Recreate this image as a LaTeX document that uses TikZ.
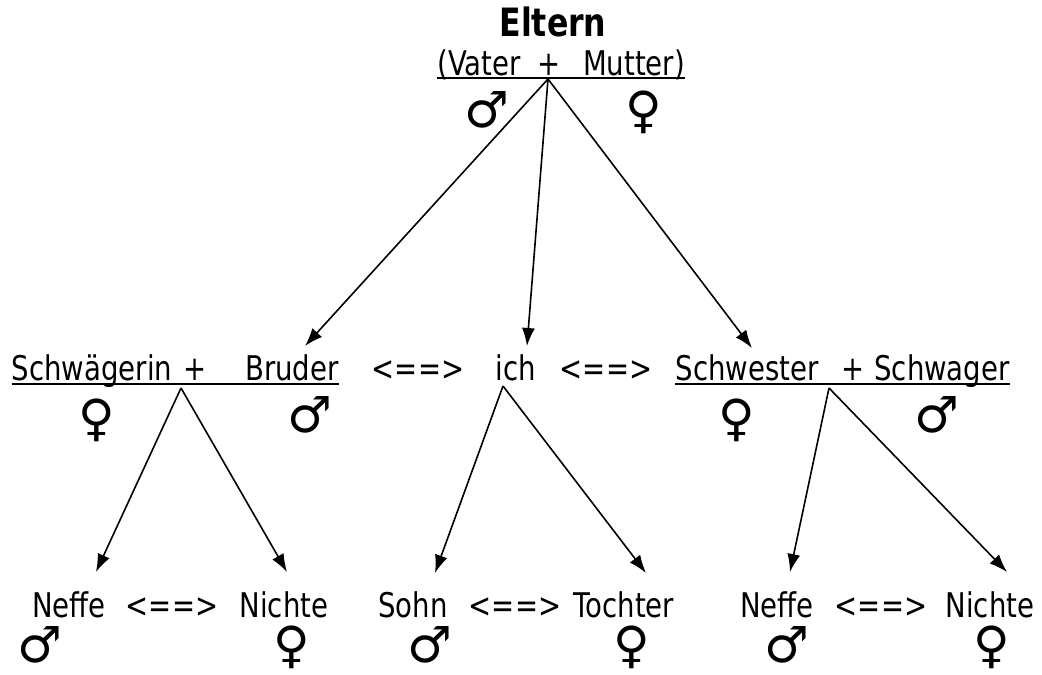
\documentclass[tikz,border=0pt]{standalone}
\usepackage{fontspec}
\setmainfont{DejaVu Sans Condensed}[FakeStretch=0.9]
\newfontfamily\symfont{DejaVu Sans}
\usetikzlibrary{arrows.meta}

\begin{document}
\begin{tikzpicture}[x=1pt, y=-1pt,
  wort/.style={anchor=base, inner sep=0pt, font=\fontsize{34}{37}\selectfont},
  zeichen/.style={inner sep=0pt, font=\symfont\fontsize{50}{54}\selectfont},
  pfeil/.style={-{Latex[length=18pt,width=13pt]}, line width=1.6pt},
  strich/.style={line width=1.8pt}]

\useasboundingbox (0,0) rectangle (1042,675);

% Eltern
\node[wort, font=\bfseries\fontsize{39}{42}\selectfont] (eltern) at (553,36) {Eltern};
\node[wort] (vater) at (479,75) {(Vater};
\node[wort] (plusE) at (549,75) {+};
\node[wort] (mutter) at (634,75) {Mutter)};
\draw[strich] ([yshift=-3pt]vater.base west) -- ([yshift=-3pt]mutter.base east);

% zweite Reihe
\node[wort] (schwaegerin) at (92,380) {Schwägerin};
\node[wort] (plusB) at (195,380) {+};
\node[wort] (bruder) at (292,380) {Bruder};
\node[wort] (pfeilA) at (418,380) {<==>};
\node[wort] (ich) at (516,380) {ich};
\node[wort] (pfeilB) at (606,380) {<==>};
\node[wort] (schwester) at (747,380) {Schwester};
\node[wort] (plusS) at (853,380) {+};
\node[wort] (schwager) at (942,380) {Schwager};
\draw[strich] ([yshift=-4pt]schwaegerin.base west) -- ([yshift=-4pt]bruder.base east);
\draw[strich] ([yshift=-4pt]schwester.base west) -- ([yshift=-4pt]schwager.base east);

% dritte Reihe
\node[wort] (neffeL) at (69,617) {Neffe};
\node[wort] (pfeilC) at (172,617) {<==>};
\node[wort] (nichteL) at (284,617) {Nichte};
\node[wort] (sohn) at (413,617) {Sohn};
\node[wort] (pfeilD) at (515,617) {<==>};
\node[wort] (tochter) at (624,617) {Tochter};
\node[wort] (neffeR) at (777,617) {Neffe};
\node[wort] (pfeilE) at (881,617) {<==>};
\node[wort] (nichteR) at (990,617) {Nichte};

% Symbole
\foreach \Pos/\Name in {(487,110)/mV, (40,645)/mNL, (310,415)/mB, (937,415)/mSr,
                        (430,645)/mS, (787,645)/mNR}{
    \node[zeichen] (\Name) at \Pos {♂};
}
\foreach \Pos/\Name in {(644,112)/wM, (97,420)/wSn, (737,420)/wSt, (292,647)/wNL,
                        (632,647)/wT, (992,647)/wNR}{
    \node[zeichen] (\Name) at \Pos {♀};
}

% Pfeile
\coordinate (elternFuss) at (548,79);
\coordinate (bruderZiel) at (305,346);
\coordinate (ichZiel) at (527,346);
\coordinate (schwesterZiel) at (752,348);
\coordinate (bruderFuss) at (181,388);
\coordinate (ichFuss) at (503,386);
\coordinate (schwesterFuss) at (829,388);
\coordinate (neffeLZiel) at (96,572);
\coordinate (nichteLZiel) at (287,572);
\coordinate (sohnZiel) at (435,573);
\coordinate (tochterZiel) at (646,573);
\coordinate (neffeRZiel) at (790,572);
\coordinate (nichteRZiel) at (1007,572);

\draw[pfeil] (elternFuss) -- (bruderZiel);
\draw[pfeil] (elternFuss) -- (ichZiel);
\draw[pfeil] (elternFuss) -- (schwesterZiel);
\draw[pfeil] (bruderFuss) -- (neffeLZiel);
\draw[pfeil] (bruderFuss) -- (nichteLZiel);
\draw[pfeil] (ichFuss) -- (sohnZiel);
\draw[pfeil] (ichFuss) -- (tochterZiel);
\draw[pfeil] (schwesterFuss) -- (neffeRZiel);
\draw[pfeil] (schwesterFuss) -- (nichteRZiel);

\end{tikzpicture}
\end{document}
